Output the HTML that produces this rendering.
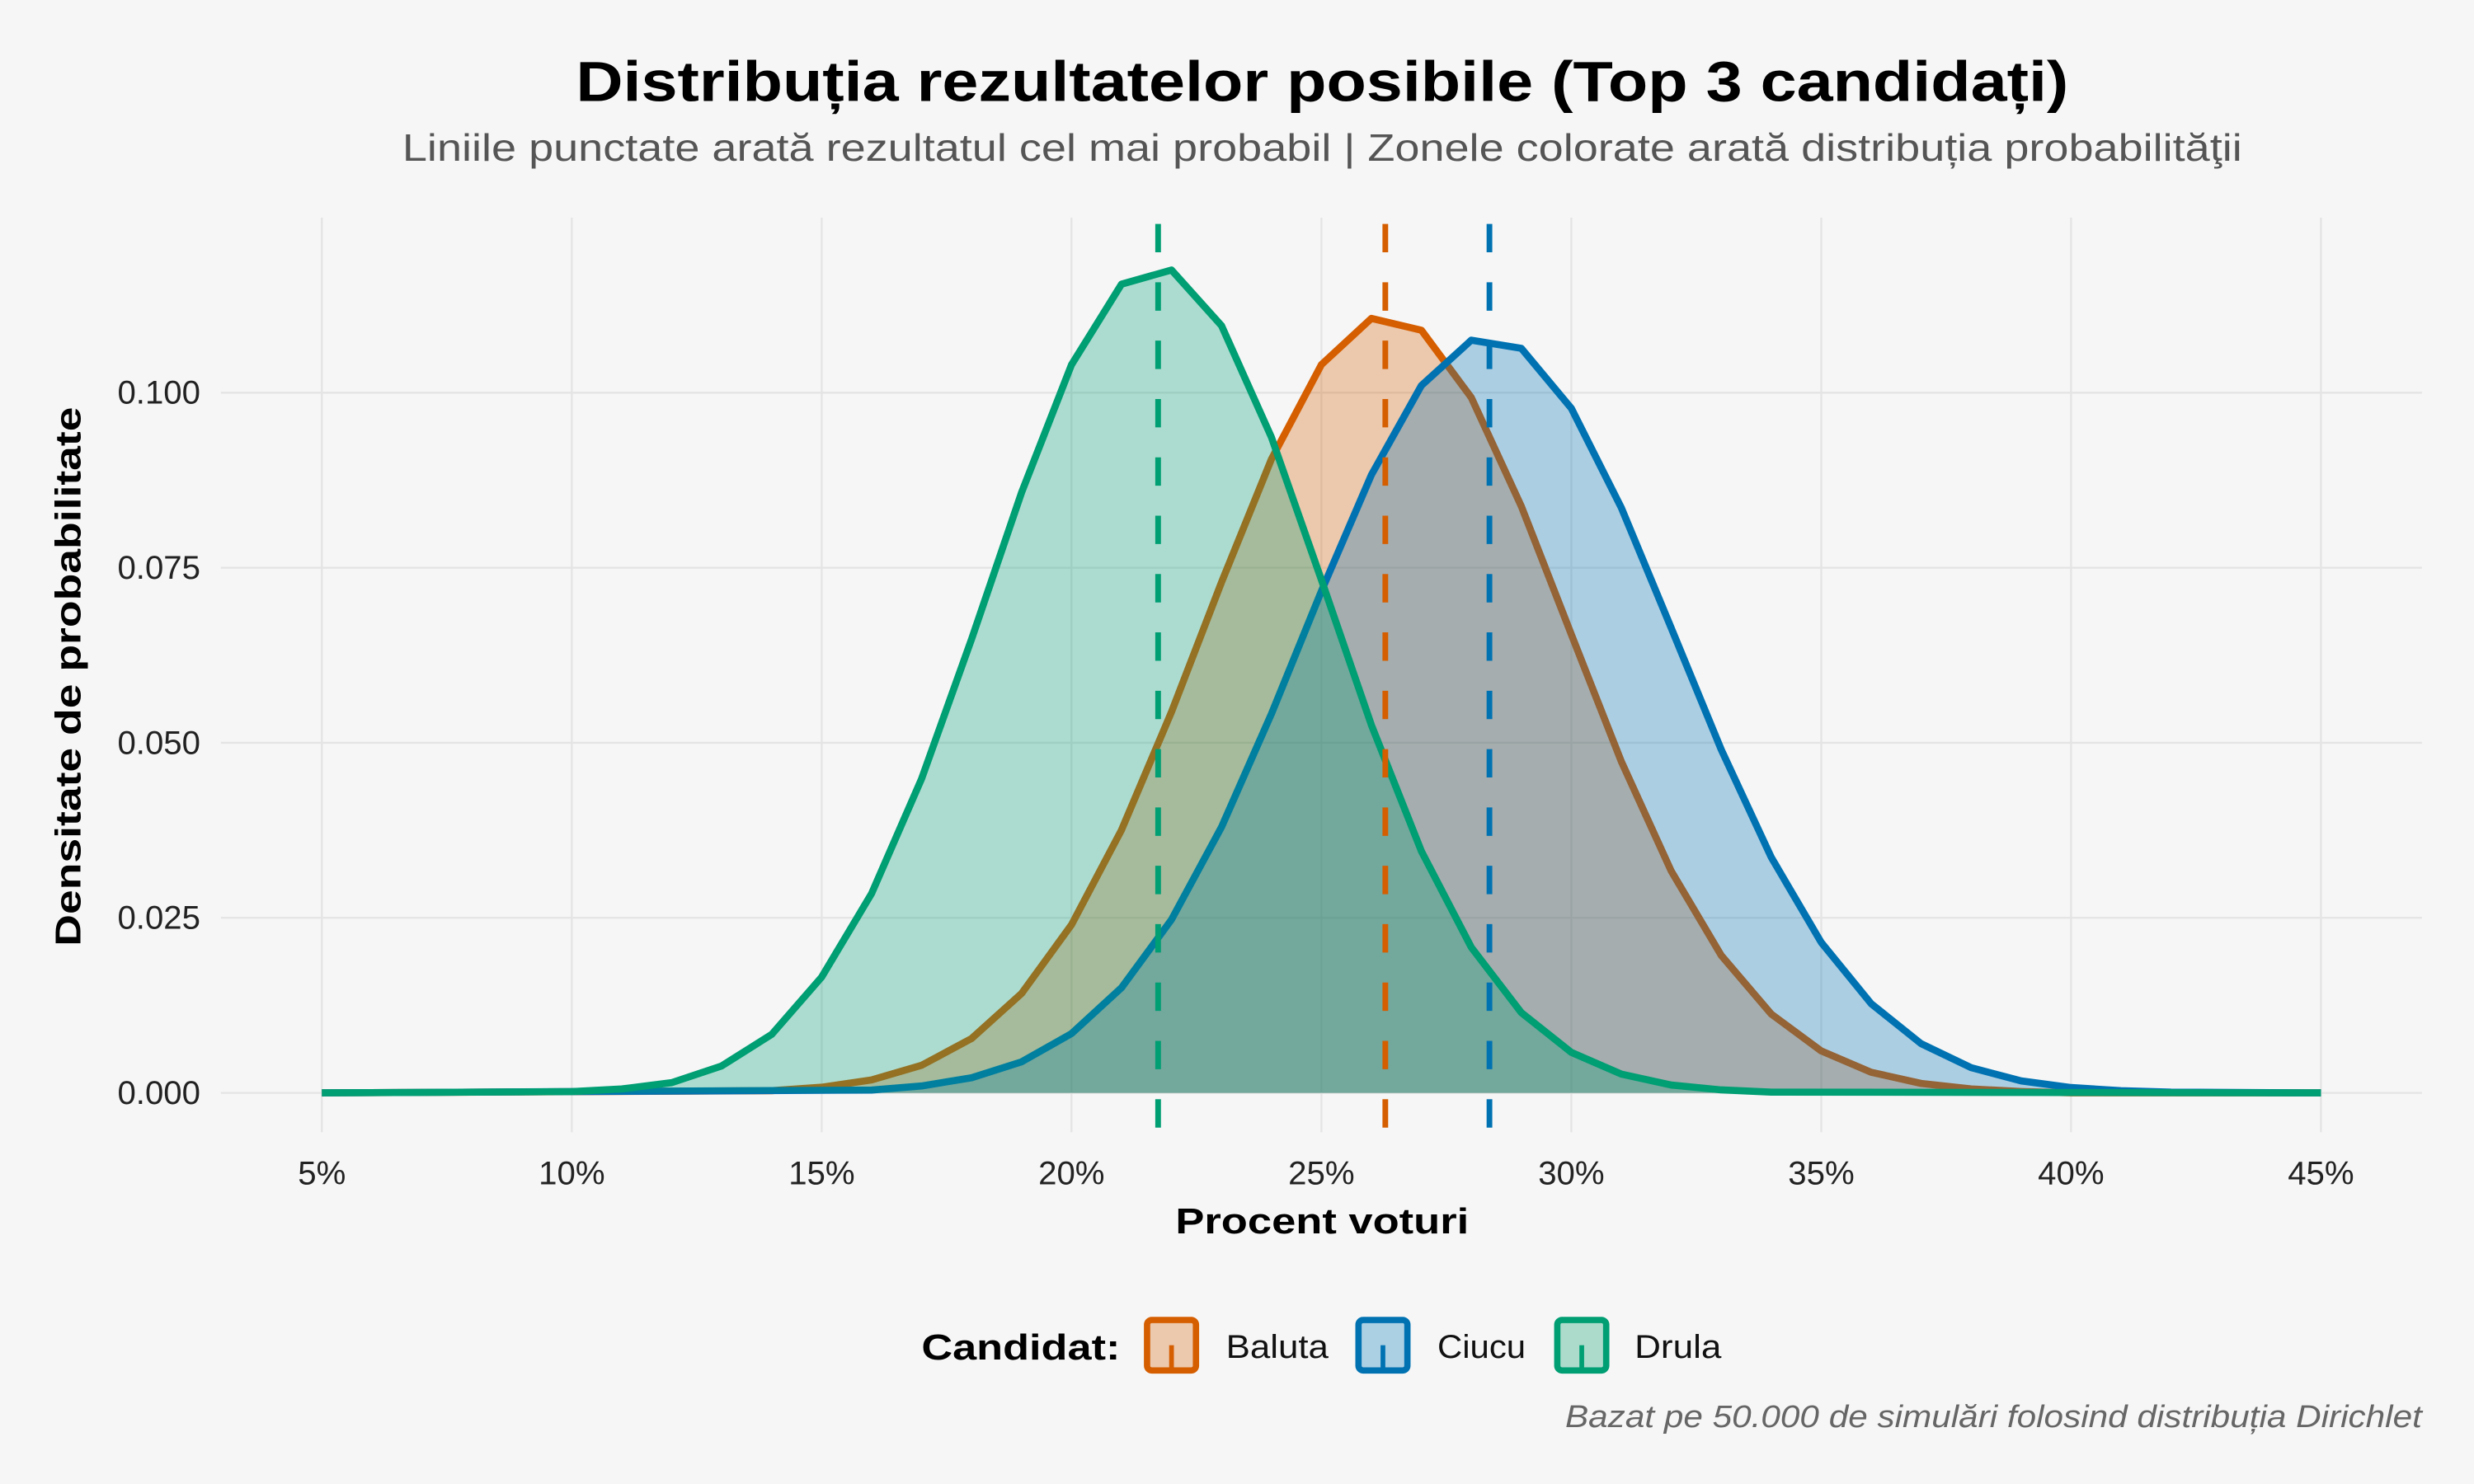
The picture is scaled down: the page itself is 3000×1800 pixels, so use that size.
<!DOCTYPE html>
<html><head><meta charset="utf-8">
<style>html,body{margin:0;padding:0;background:#f6f6f6;}svg{display:block}</style>
</head><body>
<svg width="3000" height="1800" viewBox="0 0 1568 941" preserveAspectRatio="none" xmlns="http://www.w3.org/2000/svg" font-family="'Liberation Sans', 'DejaVu Sans', sans-serif">
<rect width="1568" height="941" fill="#f6f6f6"/>
<g stroke="#e4e4e4" stroke-width="1.2">
<line x1="204" y1="138" x2="204" y2="718"/><line x1="362.4" y1="138" x2="362.4" y2="718"/><line x1="520.8" y1="138" x2="520.8" y2="718"/><line x1="679.1" y1="138" x2="679.1" y2="718"/><line x1="837.5" y1="138" x2="837.5" y2="718"/><line x1="995.9" y1="138" x2="995.9" y2="718"/><line x1="1154.3" y1="138" x2="1154.3" y2="718"/><line x1="1312.6" y1="138" x2="1312.6" y2="718"/><line x1="1471" y1="138" x2="1471" y2="718"/>
<line x1="140" y1="693" x2="1535" y2="693"/><line x1="140" y1="582" x2="1535" y2="582"/><line x1="140" y1="471" x2="1535" y2="471"/><line x1="140" y1="360" x2="1535" y2="360"/><line x1="140" y1="249" x2="1535" y2="249"/>
</g>
<!-- Baluta -->
<path d="M204,693 L489.1,691.6 L520.8,689.4 L552.4,684.8 L584.1,675.5 L615.8,658.5 L647.5,629.9 L679.1,586.4 L710.8,526.3 L742.5,451.4 L774.2,369.2 L805.8,291.2 L837.5,231.2 L869.2,201.9 L900.9,209.4 L932.5,252.1 L964.2,321 L995.9,402.3 L1027.6,482.9 L1059.2,552.3 L1090.9,605.8 L1122.6,643 L1154.3,666.4 L1185.9,679.9 L1217.6,687 L1249.3,690.5 L1281,692.1 L1312.6,693 L1471,693 Z" fill="#D55E00" fill-opacity="0.3"/>
<polyline points="204,693 489.1,691.6 520.8,689.4 552.4,684.8 584.1,675.5 615.8,658.5 647.5,629.9 679.1,586.4 710.8,526.3 742.5,451.4 774.2,369.2 805.8,291.2 837.5,231.2 869.2,201.9 900.9,209.4 932.5,252.1 964.2,321 995.9,402.3 1027.6,482.9 1059.2,552.3 1090.9,605.8 1122.6,643 1154.3,666.4 1185.9,679.9 1217.6,687 1249.3,690.5 1281,692.1 1312.6,693 1471,693" fill="none" stroke="#D55E00" stroke-width="4.5" stroke-linejoin="round"/>
<!-- Ciucu -->
<path d="M204,693 L552.4,691.2 L584.1,688.6 L615.8,683.4 L647.5,673.3 L679.1,655.4 L710.8,626.3 L742.5,583.1 L774.2,524.4 L805.8,452.7 L837.5,374.8 L869.2,301.1 L900.9,244.4 L932.5,215.7 L964.2,220.9 L995.9,258.9 L1027.6,322 L1059.2,398.2 L1090.9,475.3 L1122.6,543.6 L1154.3,597.6 L1185.9,636.4 L1217.6,661.8 L1249.3,677 L1281,685.4 L1312.6,689.6 L1344.3,691.6 L1376,692.5 L1471,693 Z" fill="#0072B2" fill-opacity="0.3"/>
<polyline points="204,693 552.4,691.2 584.1,688.6 615.8,683.4 647.5,673.3 679.1,655.4 710.8,626.3 742.5,583.1 774.2,524.4 805.8,452.7 837.5,374.8 869.2,301.1 900.9,244.4 932.5,215.7 964.2,220.9 995.9,258.9 1027.6,322 1059.2,398.2 1090.9,475.3 1122.6,543.6 1154.3,597.6 1185.9,636.4 1217.6,661.8 1249.3,677 1281,685.4 1312.6,689.6 1344.3,691.6 1376,692.5 1471,693" fill="none" stroke="#0072B2" stroke-width="4.5" stroke-linejoin="round"/>
<!-- Drula -->
<path d="M204,693 L362.4,692.2 L394.1,690.5 L425.7,686.5 L457.4,675.9 L489.1,655.9 L520.8,619.5 L552.4,566.6 L584.1,493.8 L615.8,405.2 L647.5,312.2 L679.1,231.3 L710.8,180.2 L742.5,171.2 L774.2,206.5 L805.8,277.2 L837.5,367.7 L869.2,459.8 L900.9,539.8 L932.5,600.7 L964.2,642.1 L995.9,667.3 L1027.6,681.1 L1059.2,688 L1090.9,691.1 L1122.6,692.5 L1471,693 Z" fill="#009E73" fill-opacity="0.3"/>
<polyline points="204,693 362.4,692.2 394.1,690.5 425.7,686.5 457.4,675.9 489.1,655.9 520.8,619.5 552.4,566.6 584.1,493.8 615.8,405.2 647.5,312.2 679.1,231.3 710.8,180.2 742.5,171.2 774.2,206.5 805.8,277.2 837.5,367.7 869.2,459.8 900.9,539.8 932.5,600.7 964.2,642.1 995.9,667.3 1027.6,681.1 1059.2,688 1090.9,691.1 1122.6,692.5 1471,693" fill="none" stroke="#009E73" stroke-width="4.5" stroke-linejoin="round"/>
<g stroke-width="3.6" stroke-dasharray="18 19">
<line x1="734" y1="142" x2="734" y2="718" stroke="#009E73"/>
<line x1="878" y1="142" x2="878" y2="718" stroke="#D55E00"/>
<line x1="944" y1="142" x2="944" y2="718" stroke="#0072B2"/>
</g>
<text x="838" y="64" text-anchor="middle" font-size="36" font-weight="bold" fill="#000" textLength="946" lengthAdjust="spacingAndGlyphs">Distribuția rezultatelor posibile (Top 3 candidați)</text>
<text x="838" y="102" text-anchor="middle" font-size="24" fill="#555" textLength="1166" lengthAdjust="spacingAndGlyphs">Liniile punctate arată rezultatul cel mai probabil | Zonele colorate arată distribuția probabilităţii</text>
<g font-size="21" fill="#222" text-anchor="end">
<text x="127" y="700">0.000</text><text x="127" y="589">0.025</text><text x="127" y="478">0.050</text><text x="127" y="367">0.075</text><text x="127" y="256">0.100</text>
</g>
<g font-size="21" fill="#222" text-anchor="middle">
<text x="204" y="751">5%</text><text x="362.4" y="751">10%</text><text x="520.8" y="751">15%</text><text x="679.1" y="751">20%</text><text x="837.5" y="751">25%</text><text x="995.9" y="751">30%</text><text x="1154.3" y="751">35%</text><text x="1312.6" y="751">40%</text><text x="1471" y="751">45%</text>
</g>
<text x="838" y="782" text-anchor="middle" font-size="23" font-weight="bold" textLength="186" lengthAdjust="spacingAndGlyphs">Procent voturi</text>
<text transform="translate(51,429) rotate(-90)" text-anchor="middle" font-size="23" font-weight="bold" textLength="342" lengthAdjust="spacingAndGlyphs">Densitate de probabilitate</text>
<text x="584" y="862" font-size="23" font-weight="bold" textLength="126" lengthAdjust="spacingAndGlyphs">Candidat:</text>
<g stroke-width="4">
<rect x="727" y="837" width="31" height="32" rx="3" fill="#ecc8ac" stroke="#D55E00"/>
<rect x="861" y="837" width="31" height="32" rx="3" fill="#abcfe3" stroke="#0072B2"/>
<rect x="987" y="837" width="31" height="32" rx="3" fill="#acdbcc" stroke="#009E73"/>
</g>
<g stroke-width="3">
<line x1="742.5" y1="853" x2="742.5" y2="869" stroke="#D55E00"/>
<line x1="876.5" y1="853" x2="876.5" y2="869" stroke="#0072B2"/>
<line x1="1002.5" y1="853" x2="1002.5" y2="869" stroke="#009E73"/>
</g>
<g font-size="21" fill="#111"><text x="777" y="861" textLength="65" lengthAdjust="spacingAndGlyphs">Baluta</text><text x="911" y="861" textLength="56" lengthAdjust="spacingAndGlyphs">Ciucu</text><text x="1036" y="861" textLength="55" lengthAdjust="spacingAndGlyphs">Drula</text></g>
<text x="1535" y="905" text-anchor="end" font-size="20" font-style="italic" fill="#666" textLength="543" lengthAdjust="spacingAndGlyphs">Bazat pe 50.000 de simulări folosind distribuția Dirichlet</text>
</svg>
</body></html>
